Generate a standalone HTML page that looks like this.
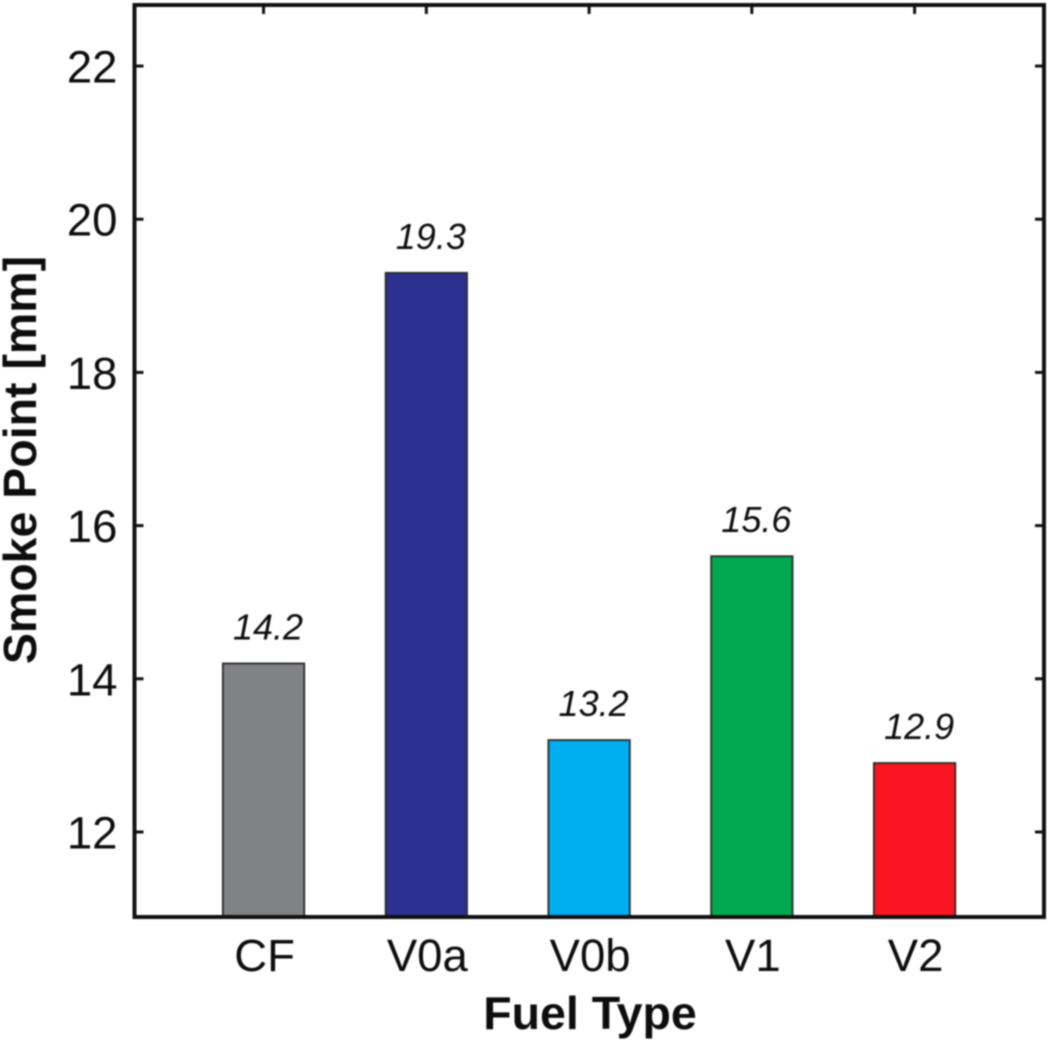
<!DOCTYPE html>
<html>
<head>
<meta charset="utf-8">
<style>
html,body{margin:0;padding:0;background:#fff;}
svg{display:block;filter:blur(0.7px);}
text{font-family:"Liberation Sans",Arial,sans-serif;fill:#0d0d0d;}
</style>
</head>
<body>
<svg id="chart" width="1050" height="1042" viewBox="0 0 1050 1042" xmlns="http://www.w3.org/2000/svg"></svg>
<script>
const categories = ["CF", "V0a", "V0b", "V1", "V2"];
const smokePoints = [14.2, 19.3, 13.2, 15.6, 12.9];
const valueLabels = ["14.2", "19.3", "13.2", "15.6", "12.9"];
const barColors = ["#808285", "#2b3090", "#00aeef", "#00a94f", "#fa1620"];
const yTicks = [12, 14, 16, 18, 20, 22];

const NS = "http://www.w3.org/2000/svg";
const svg = document.getElementById("chart");
const plot = {left: 134.5, right: 1044, top: 5, bottom: 917};
const xMin = 0.207, xMax = 5.795;
const yMin = 10.89, yMax = 22.797;
const barWidth = 0.5;
const tickLen = 9;

function xs(v) { return plot.left + (v - xMin) / (xMax - xMin) * (plot.right - plot.left); }
function ys(v) { return plot.bottom - (v - yMin) / (yMax - yMin) * (plot.bottom - plot.top); }
function mk(tag, attrs, text) {
  const el = document.createElementNS(NS, tag);
  for (const k in attrs) el.setAttribute(k, attrs[k]);
  if (text !== undefined) el.textContent = text;
  svg.appendChild(el);
  return el;
}

categories.forEach((c, i) => {
  const tb = mk("line", {x1: xs(i + 1), x2: xs(i + 1), y1: plot.bottom, y2: plot.bottom - tickLen, stroke: "#111", "stroke-width": 3});
  
  

  const x0 = xs(i + 1 - barWidth / 2), x1 = xs(i + 1 + barWidth / 2);
  const bar = mk("rect", {x: x0, y: ys(smokePoints[i]), width: x1 - x0, height: plot.bottom - ys(smokePoints[i]), fill: barColors[i], stroke: "#2a2a2a", "stroke-width": 1.8});
  
  

  const vl = mk("text", {x: xs(i + 1) + 4.5, y: ys(smokePoints[i]) - 24, "text-anchor": "middle", "font-size": 36, "font-style": "italic"}, valueLabels[i]);
  
  

  const tt = mk("line", {x1: xs(i + 1), x2: xs(i + 1), y1: plot.top, y2: plot.top + tickLen, stroke: "#111", "stroke-width": 3});
  
  

  const xl = mk("text", {x: xs(i + 1) + 1, y: 971, "text-anchor": "middle", "font-size": 45.5}, c);
  
  
});

yTicks.forEach(t => {
  const tl = mk("line", {x1: plot.left, x2: plot.left + tickLen, y1: ys(t), y2: ys(t), stroke: "#111", "stroke-width": 3});
  
  

  const tr = mk("line", {x1: plot.right, x2: plot.right - tickLen, y1: ys(t), y2: ys(t), stroke: "#111", "stroke-width": 3});
  
  

  const yl = mk("text", {x: 117.5, y: ys(t) + 16.5, "text-anchor": "end", "font-size": 45.5}, String(t));
  
  
});

const frame = mk("rect", {x: plot.left, y: plot.top, width: plot.right - plot.left, height: plot.bottom - plot.top, fill: "none", stroke: "#111", "stroke-width": 4});



const xTitle = mk("text", {x: 590, y: 1029, "text-anchor": "middle", "font-size": 46.5, "font-weight": "bold"}, "Fuel Type");



const yTitle = mk("text", {x: 0, y: 0, transform: "translate(36,460) rotate(-90)", "text-anchor": "middle", "font-size": 46.5, "font-weight": "bold"}, "Smoke Point [mm]");


</script>
</body>
</html>
